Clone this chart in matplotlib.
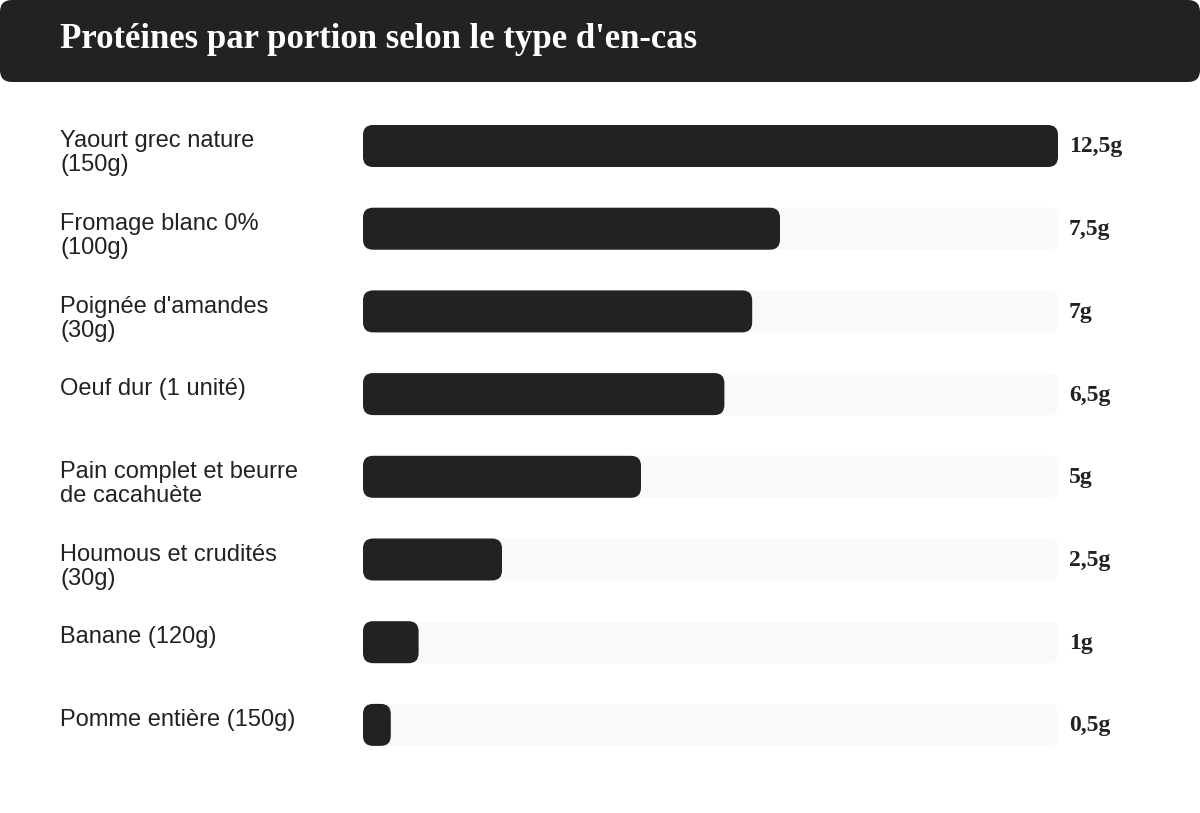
import matplotlib
matplotlib.use("Agg")
import matplotlib.pyplot as plt
from matplotlib.patches import FancyBboxPatch
from matplotlib.transforms import blended_transform_factory

# ---- data ----
categories = [
    "Yaourt grec nature\n(150g)",
    "Fromage blanc 0%\n(100g)",
    "Poignée d'amandes\n(30g)",
    "Oeuf dur (1 unité)",
    "Pain complet et beurre\nde cacahuète",
    "Houmous et crudités\n(30g)",
    "Banane (120g)",
    "Pomme entière (150g)",
]
values = [12.5, 7.5, 7, 6.5, 5, 2.5, 1, 0.5]
value_labels = ["12,5g", "7,5g", "7g", "6,5g", "5g", "2,5g", "1g", "0,5g"]
title = "Protéines par portion selon le type d'en-cas"

W, H = 1200, 813
DPI = 100
fig = plt.figure(figsize=(W / DPI, H / DPI), dpi=DPI)
fig.patch.set_facecolor("white")

DARK = "#222222"
TRACK = "#f8f9fb"

# background axes in pixel coordinates for header
bg = fig.add_axes([0, 0, 1, 1])
bg.set_xlim(0, W)
bg.set_ylim(H, 0)
bg.axis("off")
header = FancyBboxPatch((0, 0), W, 82, boxstyle="round,pad=0,rounding_size=12",
                        facecolor=DARK, edgecolor="none")
bg.add_patch(header)
bg.text(60, 48, title, color="white", fontsize=25, fontweight="bold",
        family=["Liberation Serif", "DejaVu Serif"], va="baseline", ha="left")

# bar axes
left_px, right_px = 363, 1058
row_px = 82.7
top_center, n = 146, len(values)
ax_top = top_center - row_px / 2
ax_h = row_px * n
ax = fig.add_axes([left_px / W, 1 - (ax_top + ax_h) / H, (right_px - left_px) / W, ax_h / H])
ax.set_xlim(0, max(values))
ax.set_ylim(n - 0.5, -0.5)
ax.axis("off")

xpx = (right_px - left_px) / max(values)   # px per x unit
bar_h = 42 / row_px
radius_px = 10
r = radius_px / xpx
aspect = (1 / row_px) / (1 / xpx)

for i, v in enumerate(values):
    track = FancyBboxPatch((0, i - bar_h / 2), max(values), bar_h,
                           boxstyle=f"round,pad=0,rounding_size={r}",
                           mutation_aspect=aspect, facecolor=TRACK, edgecolor="none")
    ax.add_patch(track)
    bar = FancyBboxPatch((0, i - bar_h / 2), v, bar_h,
                         boxstyle=f"round,pad=0,rounding_size={min(r, v / 2)}",
                         mutation_aspect=aspect, facecolor=DARK, edgecolor="none")
    ax.add_patch(bar)

label_pt = 17
label_px = label_pt * DPI / 72
tr_label = blended_transform_factory(fig.transFigure, ax.transData)
for i, (c, lab) in enumerate(zip(categories, value_labels)):
    ax.text(60 / W, i + (5.5 - 0.905 * label_px) / row_px, c, transform=tr_label,
            ha="left", va="top", fontsize=label_pt, color=DARK,
            family=["Liberation Sans", "DejaVu Sans"], linespacing=1.12, clip_on=False)
    ax.text(1069 / W, i + 6.5 / row_px, lab, transform=tr_label, ha="left", va="baseline",
            fontsize=17, fontweight="bold", color=DARK,
            family=["Liberation Serif", "DejaVu Serif"], clip_on=False)

fig.savefig("out.png", dpi=DPI)
